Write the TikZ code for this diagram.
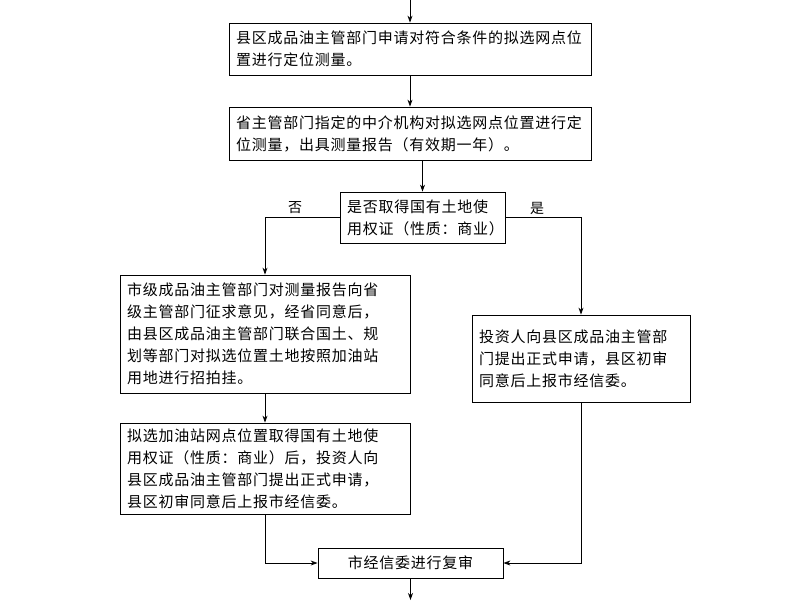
\documentclass[tikz,border=0pt]{standalone}
\usepackage{fontspec}
\setmainfont[LetterSpace=5]{Noto Sans CJK SC}
\usetikzlibrary{arrows.meta}
\begin{document}
\begin{tikzpicture}[x=1pt,y=-1pt,
  box/.style={draw,line width=0.8pt,inner sep=0pt,minimum width=#1,text width=#1-14pt,align=left,font=\fontsize{15}{22}\selectfont},
  arr/.style={draw,line width=0.8pt,-{Stealth[length=7pt,width=5pt]}},
  lab/.style={font=\fontsize{14}{16}\selectfont}]
\useasboundingbox (0,0) rectangle (800,600);
\coordinate (top) at (410,0);
\node[box=362pt,minimum height=52pt] (b1) at (410,49) {县区成品油主管部门申请对符合条件的拟选网点位\\置进行定位测量。};
\node[box=362pt,minimum height=53pt] (b2) at (410,133.5) {省主管部门指定的中介机构对拟选网点位置进行定\\位测量，出具测量报告（有效期一年）。};
\node[box=165pt,minimum height=51pt] (b3) at (422.5,217.5) {是否取得国有土地使\\用权证（性质：商业）};
\node[box=290pt,minimum height=118pt] (b4) at (265,334) {市级成品油主管部门对测量报告向省\\级主管部门征求意见，经省同意后，\\由县区成品油主管部门联合国土、规\\划等部门对拟选位置土地按照加油站\\用地进行招拍挂。};
\node[box=218pt,minimum height=87pt] (b5) at (581,358.5) {投资人向县区成品油主管部\\门提出正式申请，县区初审\\同意后上报市经信委。};
\node[box=290pt,minimum height=91pt] (b6) at (265,468.5) {拟选加油站网点位置取得国有土地使\\用权证（性质：商业）后，投资人向\\县区成品油主管部门提出正式申请，\\县区初审同意后上报市经信委。};
\node[box=185pt,minimum height=30pt,align=center] (b7) at (410.5,563) {市经信委进行复审};
\coordinate (bot) at (410.5,600);
\node[lab] (no) at (295,208) {否};
\node[lab] (yes) at (537,208) {是};
\draw[arr] (top) -- (b1);
\draw[arr] (b1) -- (b2);
\draw[arr] (b2.south -| b3.north) -- (b3);
\draw[arr] (b3.west) -| (b4.north);
\draw[arr] (b3.east) -| (b5.north);
\draw[arr] (b4) -- (b6);
\draw[arr] (b6.south) |- (b7.west);
\draw[arr] (b5.south) |- (b7.east);
\draw[arr] (b7) -- (bot);
\end{tikzpicture}
\end{document}
